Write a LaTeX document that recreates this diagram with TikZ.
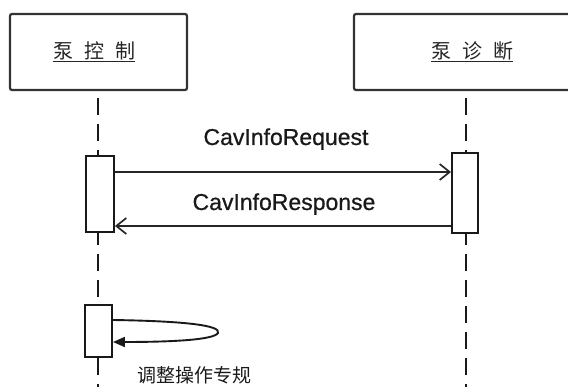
\documentclass[tikz,border=0pt]{standalone}
\usepackage{fontspec}
\setmainfont{Liberation Sans}
\newfontfamily\lblfont[FakeBold=0.7]{Liberation Sans}
\newfontfamily\cjk{Noto Sans CJK SC}
\usetikzlibrary{arrows.meta}
\begin{document}
\begin{tikzpicture}[x=1pt,y=-1pt,
 obj/.style={draw=black!80,line width=2.2pt,rounded corners=2pt,fill=white,inner sep=0pt},
 act/.style={draw=black!90,line width=1.9pt,fill=white,inner sep=0pt},
 life/.style={draw=black!90,line width=1.9pt,dash pattern=on 17pt off 9pt,dash phase=19pt},
 msg/.style={draw=black!85,line width=1.7pt,-{Straight Barb[length=10pt,width=16pt]}},
 selfmsg/.style={draw=black!90,line width=1.9pt,-{Triangle[length=12pt,width=10pt]}},
 lbl/.style={font=\lblfont\fontsize{23}{27}\selectfont,text=black!90,inner sep=0pt},
 cjklbl/.style={font=\cjk\fontsize{20}{24}\selectfont,text=black!85,inner sep=0pt}]
\useasboundingbox (0,0) rectangle (568,387);
\clip (0,0) rectangle (568,387);
% objects
\node[obj,minimum width=177pt,minimum height=76pt] (o1) at (98.5,52) {};
\node[obj,minimum width=236pt,minimum height=76pt] (o2) at (472,52) {};
\node[cjklbl] (t1) at (94,52) {\underline{泵\hspace{11pt}控\hspace{11pt}制}};
\node[cjklbl] (t2) at (472,52) {\underline{泵\hspace{11pt}诊\hspace{11pt}断}};
% lifelines
\coordinate (e1) at (98,400);
\coordinate (e2) at (466,400);
\draw[life] (o1.south -| e1) -- (e1);
\draw[life] (o2.south -| e2) -- (e2);
% activations
\node[act,minimum width=28pt,minimum height=76pt] (a1) at (100,194) {};
\node[act,minimum width=26pt,minimum height=80pt] (a2) at (465,193) {};
\node[act,minimum width=27pt,minimum height=52pt] (a3) at (98.5,331) {};
% messages
\coordinate (y1) at (0,172);
\coordinate (y2) at (0,226);
\draw[msg] (a1.east |- y1) -- (a2.west |- y1);
\draw[msg] (a2.west |- y2) -- (a1.east |- y2);
\node[lbl,anchor=base] (l1) at (286,145) {CavInfoRequest};
\node[lbl,anchor=base] (l2) at (284,210) {CavInfoResponse};
% self message
\coordinate (s1) at (0,320);
\coordinate (s2) at (0,342);
\coordinate (tip) at (218,333);
\draw[selfmsg] (a3.east |- s1) .. controls (180,321) and (222,325) .. (tip)
  .. controls (214,340) and (170,342) .. (a3.east |- s2);
\node[cjklbl,font=\cjk\fontsize{19}{23}\selectfont,text=black!90] (l3) at (194,375.5) {调整操作专规};
\end{tikzpicture}
\end{document}
